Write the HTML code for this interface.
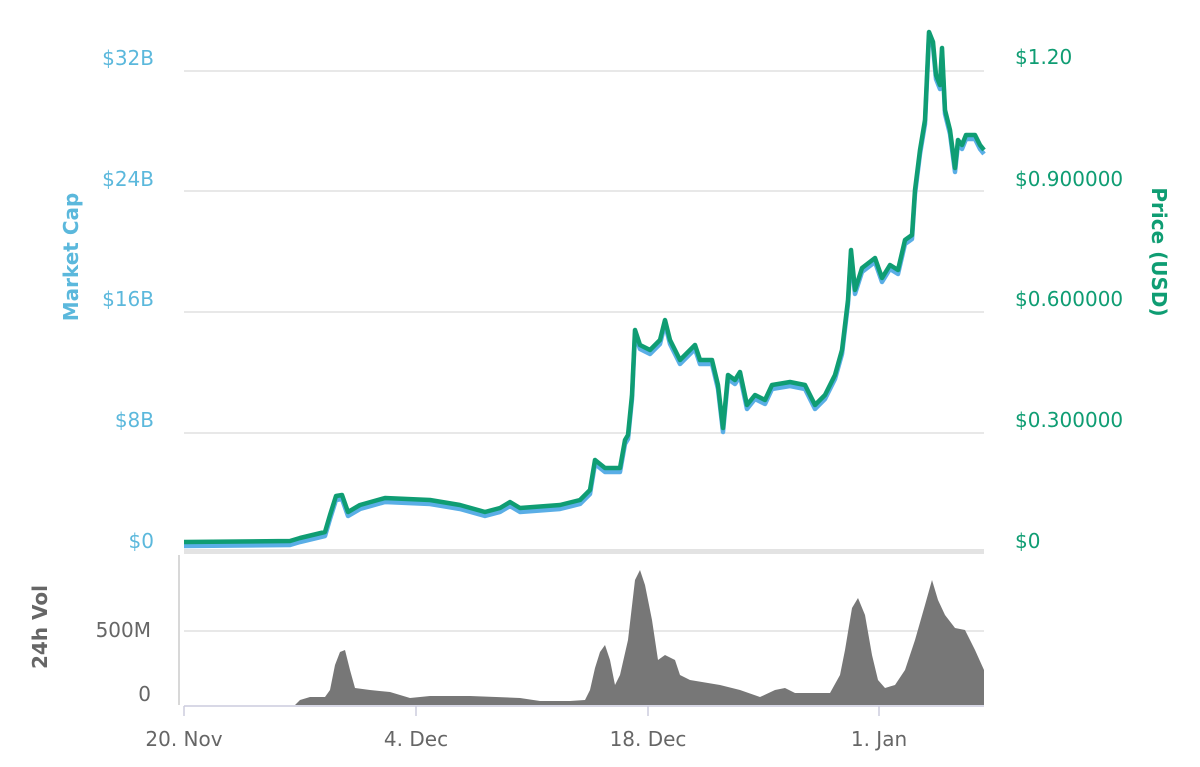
<!DOCTYPE html>
<html><head><meta charset="utf-8"><style>
html,body{margin:0;padding:0;background:#fff;}
svg{display:block;font-family:"DejaVu Sans","Liberation Sans",sans-serif;}
</style></head><body>
<svg width="1200" height="767" viewBox="0 0 1200 767">
<rect width="1200" height="767" fill="#fff"/>
<g stroke="#e0e0e0" stroke-width="1.5">
<line x1="184" y1="71" x2="984" y2="71"/>
<line x1="184" y1="191" x2="984" y2="191"/>
<line x1="184" y1="312" x2="984" y2="312"/>
<line x1="184" y1="433" x2="984" y2="433"/>
<line x1="184" y1="631" x2="984" y2="631"/>
</g>
<rect x="184" y="549" width="800" height="5" fill="#e3e3e3"/>
<g font-size="20" fill="#5bb8dc" text-anchor="end">
<text x="154" y="65">$32B</text>
<text x="154" y="186">$24B</text>
<text x="154" y="306">$16B</text>
<text x="154" y="427">$8B</text>
<text x="154" y="548">$0</text>
</g>
<text transform="translate(78,257) rotate(-90)" font-size="20" font-weight="bold" fill="#5bb8dc" text-anchor="middle">Market Cap</text>
<g font-size="20" fill="#0f9d73">
<text x="1015" y="64">$1.20</text>
<text x="1015" y="186">$0.900000</text>
<text x="1015" y="306">$0.600000</text>
<text x="1015" y="427">$0.300000</text>
<text x="1015" y="548">$0</text>
</g>
<text transform="translate(1152,252) rotate(90)" font-size="20" font-weight="bold" fill="#0f9d73" text-anchor="middle">Price (USD)</text>
<polyline fill="none" stroke="#5aaee6" stroke-width="4.5" stroke-linejoin="round" transform="translate(0,4)" points="184,542 290,541 300,538 325,532 330,515 336,496 342,495 348,512 360,505 385,498 430,500 460,505 485,512 500,508 510,502 520,508 560,505 580,500 590,490 595,460 605,468 620,468 625,440 628,435 632,395 635,330 640,345 650,350 660,340 665,320 670,340 680,360 695,345 700,360 712,360 718,385 723,428 728,375 735,380 740,372 747,405 755,395 765,400 772,385 790,382 805,385 815,405 825,395 835,375 842,350 848,300 851,250 855,290 862,268 875,258 882,278 890,265 898,270 905,240 912,235 915,190 920,150 925,120 929,32 933,42 936,75 940,85 942,48 945,110 950,130 955,168 958,140 962,145 966,135 975,135 980,145 984,150"/>
<polyline fill="none" stroke="#0f9d73" stroke-width="4.5" stroke-linejoin="round" points="184,542 290,541 300,538 325,532 330,515 336,496 342,495 348,512 360,505 385,498 430,500 460,505 485,512 500,508 510,502 520,508 560,505 580,500 590,490 595,460 605,468 620,468 625,440 628,435 632,395 635,330 640,345 650,350 660,340 665,320 670,340 680,360 695,345 700,360 712,360 718,385 723,428 728,375 735,380 740,372 747,405 755,395 765,400 772,385 790,382 805,385 815,405 825,395 835,375 842,350 848,300 851,250 855,290 862,268 875,258 882,278 890,265 898,270 905,240 912,235 915,190 920,150 925,120 929,32 933,42 936,75 940,85 942,48 945,110 950,130 955,168 958,140 962,145 966,135 975,135 980,145 984,150"/>
<polygon fill="#777" points="295,705 300,700 310,697 325,697 330,690 335,665 340,652 345,650 350,670 355,688 370,690 390,692 410,698 430,696 470,696 520,698 540,701 570,701 585,700 590,690 595,668 600,652 605,645 610,660 615,685 620,675 628,640 635,580 640,570 645,585 652,620 658,660 665,655 675,660 680,675 690,680 720,685 740,690 760,697 775,690 785,688 795,693 830,693 840,675 845,650 852,608 858,598 865,615 872,655 878,680 885,688 895,685 905,670 915,640 925,605 932,580 938,600 945,615 955,628 965,630 975,650 984,670 984,705"/>
<line x1="179" y1="555" x2="179" y2="705" stroke="#ccc" stroke-width="1.5"/>
<line x1="184" y1="706" x2="984" y2="706" stroke="#ccd" stroke-width="1.5"/>
<g stroke="#ccd" stroke-width="1.5">
<line x1="184" y1="706" x2="184" y2="716"/>
<line x1="416" y1="706" x2="416" y2="716"/>
<line x1="648" y1="706" x2="648" y2="716"/>
<line x1="879" y1="706" x2="879" y2="716"/>
</g>
<g font-size="20" fill="#666" text-anchor="end">
<text x="151" y="637">500M</text>
<text x="151" y="701">0</text>
</g>
<text transform="translate(47,627) rotate(-90)" font-size="20" font-weight="bold" fill="#666" text-anchor="middle">24h Vol</text>
<g font-size="20" fill="#666" text-anchor="middle">
<text x="184" y="746">20. Nov</text>
<text x="416" y="746">4. Dec</text>
<text x="648" y="746">18. Dec</text>
<text x="879" y="746">1. Jan</text>
</g>
</svg>
</body></html>
